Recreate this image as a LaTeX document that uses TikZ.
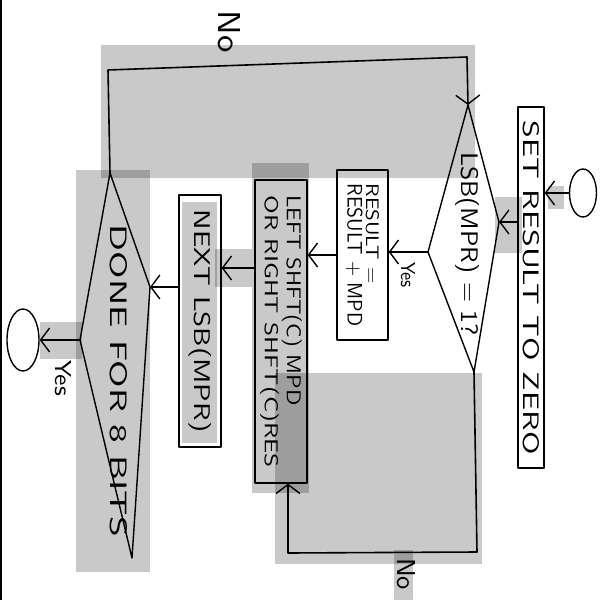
\documentclass[tikz,border=0pt]{standalone}
\usepackage{graphicx}
\usetikzlibrary{arrows.meta,shapes.geometric}
\newcommand{\handtext}[3]{\resizebox{#1pt}{#2pt}{\sffamily #3}}
\tikzset{
  box/.style={draw, line width=1.3pt, inner sep=0pt},
  arr/.style={-{Straight Barb[length=9pt,width=24pt,line width=1.4pt]}, line width=1.6pt},
  patch/.style={fill=black, opacity=0.21},
  lbl/.style={inner sep=0pt},
}
\begin{document}
\begin{tikzpicture}[x=1pt,y=-1pt,line join=round]
\useasboundingbox (0,0) rectangle (600,600);
% grey patches
\fill[patch] (101,45) rectangle (475,178);
\fill[patch] (76,170) rectangle (150,572);
\fill[patch] (252,163) rectangle (309,493);
\fill[patch] (215,249) rectangle (252,287);
\fill[patch] (40,322) rectangle (82,359);
\fill[patch] (275,373) rectangle (482,564);
\fill[patch] (394,550) rectangle (413,600);
\fill[patch] (495,197) rectangle (522,253);
\fill[patch] (548,186) rectangle (564,209);
\fill[patch] (182,202) rectangle (217,443);
\draw[line width=1.5pt] (1,0) -- (1,600); % edge

% decisions
\coordinate (lsbT) at (468,105);
\coordinate (lsbR) at (499,222);
\coordinate (lsbB) at (474,372);
\coordinate (lsbL) at (428,252);
\draw[line width=1.4pt] (lsbT) -- (lsbR) -- (lsbB) -- (lsbL) -- cycle;
\node[lbl] (lsb) at (467,244) {\rotatebox{-90}{\handtext{184}{18}{LSB(MPR) = 1?}}};
\coordinate (doneT) at (110,173);
\coordinate (doneR) at (150,287);
\coordinate (doneB) at (132,558);
\coordinate (doneL) at (80,340);
\draw[line width=1.4pt] (doneT) -- (doneR) -- (doneB) -- (doneL) -- cycle;
\node[lbl] (done) at (119,381) {\rotatebox{-90}{\handtext{312}{17}{DONE FOR 8 BITS}}};

% steps
\node[draw, ellipse, line width=1.4pt, minimum width=27pt, minimum height=48pt, inner sep=0pt] (start) at (583,193) {};
\node[box, minimum width=26pt, minimum height=361pt] (set) at (531,287.5) {\rotatebox{-90}{\handtext{334}{16}{SET RESULT TO ZERO}}};
\node[box, minimum width=51pt, minimum height=170pt] (res) at (362.5,255) {\rotatebox{-90}{\shortstack[l]{\handtext{100}{13}{RESULT =}\\\handtext{143}{15}{RESULT + MPD}}}};
\node[box, minimum width=52pt, minimum height=303pt] (shift) at (281,331.5) {\rotatebox{-90}{\shortstack[l]{\handtext{210}{15}{LEFT SHFT(C) MPD}\\\handtext{272}{14}{OR RIGHT SHFT(C)RES}}}};
\node[box, minimum width=42pt, minimum height=252pt] (next) at (200,321) {\rotatebox{-90}{\handtext{223}{17}{NEXT LSB(MPR)}}};
\node[draw, ellipse, line width=1.4pt, minimum width=32pt, minimum height=62pt, inner sep=0pt] (end) at (23,340) {};

% labels
\node[lbl] (yesA) at (408,275) {\rotatebox{-90}{\handtext{26}{14}{Yes}}};
\node[lbl] (yesB) at (63,378) {\rotatebox{-90}{\handtext{36}{16}{Yes}}};
\node[lbl] (noA) at (229,32) {\rotatebox{-90}{\handtext{42}{22}{No}}};
\node[lbl] (noB) at (406,574) {\rotatebox{-90}{\handtext{32}{18}{No}}};

% connectors
\coordinate (p1) at (0,268);
\draw[arr] (start.west) -- (set.east |- start.west);
\draw[arr] (set.west |- lsbR) -- (lsbR);
\draw[arr] (lsbL) -- (res.east |- lsbL);
\draw[arr] (res.west) -- (shift.east |- res.west);
\draw[arr] (shift.west |- p1) -- (next.east |- p1);
\draw[arr] (next.west |- doneR) -- (doneR);
\draw[arr] (doneL) -- (end.east |- doneL);
% no loops
\coordinate (q1) at (108,70);
\coordinate (q2) at (467,57);
\draw[arr] (doneT) -- (q1) -- (q2) -- (lsbT);
\coordinate (q3) at (477,552);
\coordinate (q4) at (288,553);
\draw[arr] (lsbB) -- (q3) -- (q4) -- (q4 |- shift.south);
\end{tikzpicture}
\end{document}
